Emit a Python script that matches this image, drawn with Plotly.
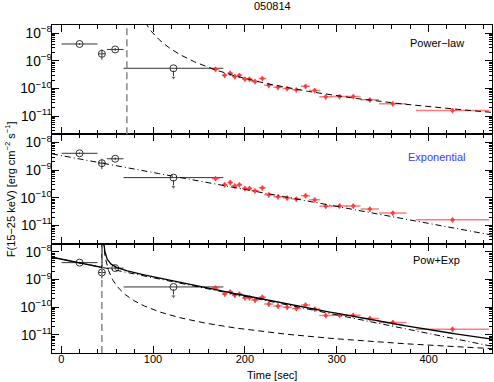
import numpy as np
import plotly.graph_objects as go
from plotly.subplots import make_subplots

# early BAT points (black circles)
bat_t = [20.0, 44.3, 58.8]
bat_terr = [19.5, 3.7, 9.0]
bat_f = [4.1e-9, 1.8e-9, 2.6e-9]
bat_ferr_up = [0.3e-9, 0.8e-9, 0.3e-9]
bat_ferr_dn = [0.3e-9, 0.7e-9, 0.3e-9]

# upper limit
ul_t = [122.2]
ul_terr = [54.3]
ul_f = [5.4e-10]

# later points (red)
xrt_t = [168, 178, 184, 189, 194, 200, 205, 211, 219, 226, 236, 246, 256, 266,
         276, 288, 303, 318, 336, 361, 426]
xrt_terr = [4, 3, 3, 3, 3, 3, 3, 4, 4, 5, 5, 5, 5, 5, 6, 7, 9, 8, 10, 15, 40]
xrt_f = [5.0e-10, 3.0e-10, 3.6e-10, 2.7e-10, 3.0e-10, 2.2e-10, 2.2e-10, 1.8e-10,
         2.3e-10, 1.3e-10, 1.1e-10, 1.0e-10, 9.0e-11, 1.2e-10, 8.5e-11, 5.0e-11,
         5.1e-11, 5.1e-11, 3.9e-11, 2.8e-11, 1.6e-11]

# fitted models
pl_t0, pl_index, pl_norm = 71.5, 2.5, 4.3e-10          # norm = flux 100 s after t0
exp_norm, exp_tau = 3.4e-9, 70.7
pe_t0, pe_index, pe_pl_norm = 44.3, 1.6, 3.2e-11
pe_exp_norm, pe_exp_tau = 5.5e-9, 64.5

panel_labels = ["Power−law", "Exponential", "Pow+Exp"]
label_colors = ["black", "#3a3aff", "black"]

t_grid = np.unique(np.concatenate([np.linspace(-10, 469, 600),
                                   pl_t0 + np.geomspace(0.01, 40, 80),
                                   pe_t0 + np.geomspace(0.001, 40, 120),
                                   [pe_t0 - 0.001]]))


def powerlaw(t, t0, index, norm):
    dt = t - t0
    out = np.full_like(t, np.nan)
    ok = dt > 0
    out[ok] = norm * (dt[ok] / 100.0) ** (-index)
    return out


def expo(t, norm, tau):
    return norm * np.exp(-t / tau)


fig = make_subplots(rows=3, cols=1, shared_xaxes=True, vertical_spacing=0)

for row in (1, 2, 3):
    fig.add_trace(go.Scatter(
        x=bat_t, y=bat_f, mode="markers",
        marker=dict(symbol="circle-open", size=7, color="#333",
                    line=dict(width=1, color="#333")),
        error_x=dict(type="data", array=bat_terr, width=0, thickness=1, color="#333"),
        error_y=dict(type="data", array=bat_ferr_up, arrayminus=bat_ferr_dn,
                     width=0, thickness=1, color="#333"),
        showlegend=False), row=row, col=1)
    fig.add_trace(go.Scatter(
        x=ul_t, y=ul_f, mode="markers",
        marker=dict(symbol="circle-open", size=7, color="#333",
                    line=dict(width=1, color="#333")),
        error_x=dict(type="data", array=ul_terr, width=0, thickness=1, color="#333"),
        showlegend=False), row=row, col=1)
    fig.add_trace(go.Scatter(
        x=[ul_t[0], ul_t[0]], y=[ul_f[0] * 0.82, ul_f[0] * 0.46], mode="lines+markers",
        line=dict(color="#333", width=1),
        marker=dict(symbol=["circle", "triangle-down"], size=[0, 5], color="#333"),
        showlegend=False), row=row, col=1)
    fig.add_trace(go.Scatter(
        x=xrt_t, y=xrt_f, mode="markers",
        marker=dict(symbol="diamond", size=4, color="rgba(255,50,50,0.85)"),
        error_x=dict(type="data", array=xrt_terr, width=0, thickness=1.5,
                     color="rgba(255,80,80,0.75)"),
        error_y=dict(type="percent", value=22, width=0, thickness=1.5,
                     color="rgba(255,80,80,0.75)"),
        showlegend=False), row=row, col=1)

# Power-law panel
fig.add_trace(go.Scatter(x=t_grid, y=powerlaw(t_grid, pl_t0, pl_index, pl_norm),
                         mode="lines", line=dict(color="black", width=1, dash="6px,4px"),
                         showlegend=False), row=1, col=1)
fig.add_vline(x=pl_t0, line=dict(color="#888", width=1.5, dash="7px,4px"), row=1, col=1)

# Exponential panel
fig.add_trace(go.Scatter(x=t_grid, y=expo(t_grid, exp_norm, exp_tau),
                         mode="lines", line=dict(color="black", width=1, dash="6px,3px,1px,3px"),
                         showlegend=False), row=2, col=1)

# Pow+Exp panel
pe_pl = powerlaw(t_grid, pe_t0, pe_index, pe_pl_norm)
pe_exp = expo(t_grid, pe_exp_norm, pe_exp_tau)
pe_tot = pe_exp + np.nan_to_num(pe_pl)
fig.add_trace(go.Scatter(x=t_grid, y=pe_pl, mode="lines",
                         line=dict(color="black", width=1, dash="6px,4px"),
                         showlegend=False), row=3, col=1)
fig.add_trace(go.Scatter(x=t_grid, y=pe_exp, mode="lines",
                         line=dict(color="black", width=1, dash="6px,3px,1px,3px"),
                         showlegend=False), row=3, col=1)
fig.add_trace(go.Scatter(x=t_grid, y=pe_tot, mode="lines",
                         line=dict(color="black", width=1.3),
                         showlegend=False), row=3, col=1)
fig.add_vline(x=pe_t0, line=dict(color="#888", width=1.5, dash="7px,4px"), row=3, col=1)

font = dict(family="Liberation Sans, Arial, sans-serif", size=11, color="black")

for row in (1, 2, 3):
    fig.update_xaxes(range=[-10, 469], dtick=100, ticks="inside", ticklen=7,
                     minor=dict(ticks="inside", ticklen=4, dtick=20, tickcolor="black"),
                     showline=True, linecolor="black", linewidth=1, mirror="allticks",
                     tickcolor="black", showgrid=False, zeroline=False,
                     showticklabels=(row == 3), tickfont=font, ticklabelstandoff=-4,
                     row=row, col=1)
    fig.update_yaxes(type="log", range=[-11.66, -7.7], dtick=1, exponentformat="power",
                     showexponent="all", ticks="inside", ticklen=7,
                     minor=dict(ticks="inside", ticklen=3, dtick="D1", tickcolor="black"),
                     showline=True, linecolor="black", linewidth=1, mirror="allticks",
                     tickcolor="black", showgrid=False, zeroline=False,
                     tickfont=font, ticklabelstandoff=-3, row=row, col=1)

label_y = [0.944, 0.597, 0.2835]
for text, color, ly in zip(panel_labels, label_colors, label_y):
    fig.add_annotation(text=text, x=0.874, y=ly, xref="paper", yref="paper",
                       xanchor="center", yanchor="middle", showarrow=False,
                       font=dict(family=font["family"], size=11, color=color))

fig.add_annotation(text="050814", x=0.5, y=1.058, xref="paper", yref="paper",
                   xanchor="center", yanchor="middle", showarrow=False, font=font)
fig.add_annotation(text="Time [sec]", x=0.5, y=-0.067, xref="paper", yref="paper",
                   xanchor="center", yanchor="middle", showarrow=False, font=font)
fig.add_annotation(text="F(15−25 keV) [erg cm<sup>−2</sup> s<sup>−1</sup>]",
                   x=-0.095, y=0.5, xref="paper", yref="paper", textangle=-90,
                   showarrow=False, font=font, xanchor="center", yanchor="middle")

fig.update_layout(width=494, height=382, margin=dict(l=52, r=2, t=25, b=29),
                  plot_bgcolor="white", paper_bgcolor="white", font=font)

# drop the default body margin so the figure fills the window exactly
fig.write_html("out.html", config={"displayModeBar": False},
               post_script="document.body.style.margin='0px';")
